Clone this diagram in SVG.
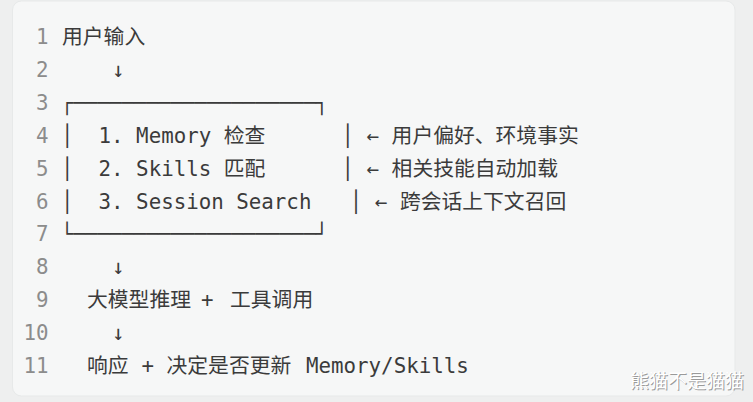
<svg xmlns="http://www.w3.org/2000/svg" width="753" height="402" viewBox="0 0 753 402">
<style>
.ln{font-family:"DejaVu Sans Mono","Liberation Mono","Noto Sans CJK SC",monospace;font-size:20.8px;fill:#8c8c8c;text-anchor:end}
.c{font-family:"DejaVu Sans Mono","Liberation Mono","Noto Sans CJK SC",monospace;font-size:20.8px;fill:#3b3b3b;white-space:pre}
.wm{font-family:"Noto Sans CJK SC","Noto Sans",sans-serif;font-size:19px}
</style>
<rect x="0" y="0" width="753" height="402" fill="#eeefef"/>
<rect x="12.5" y="1" width="722.5" height="395" rx="9" fill="#f6f7f7" stroke="#e7e9e9" stroke-width="1"/>
<g id="line-numbers">
<text class="ln" x="48.5" y="44">1</text>
<text class="ln" x="48.5" y="76.9">2</text>
<text class="ln" x="48.5" y="109.8">3</text>
<text class="ln" x="48.5" y="142.7">4</text>
<text class="ln" x="48.5" y="175.6">5</text>
<text class="ln" x="48.5" y="208.5">6</text>
<text class="ln" x="48.5" y="241.4">7</text>
<text class="ln" x="48.5" y="274.3">8</text>
<text class="ln" x="48.5" y="307.2">9</text>
<text class="ln" x="48.5" y="340.1">10</text>
<text class="ln" x="48.5" y="373">11</text>
</g>
<g id="code">
<text class="c" x="62" y="44">用户输入</text>
<text class="c" x="112" y="76.9">↓</text>
<text class="c" x="61" y="109.8" textLength="267" lengthAdjust="spacingAndGlyphs">┌────────────────────┐</text>
<text class="c" x="61" y="142.7" xml:space="preserve">│  1. Memory 检查</text>
<text class="c" x="341.5" y="142.7" xml:space="preserve">│ ← 用户偏好、环境事实</text>
<text class="c" x="61" y="175.6" xml:space="preserve">│  2. Skills 匹配</text>
<text class="c" x="341.5" y="175.6" xml:space="preserve">│ ← 相关技能自动加载</text>
<text class="c" x="61" y="208.5" xml:space="preserve">│  3. Session Search</text>
<text class="c" x="349.8" y="208.5" xml:space="preserve">│ ← 跨会话上下文召回</text>
<text class="c" x="61" y="241.4" textLength="267" lengthAdjust="spacingAndGlyphs">└────────────────────┘</text>
<text class="c" x="112" y="274.3">↓</text>
<text class="c" y="307.2"><tspan x="87">大模型推理</tspan><tspan x="201">+</tspan><tspan x="230">工具调用</tspan></text>
<text class="c" x="112" y="340.1">↓</text>
<text class="c" y="373"><tspan x="87">响应</tspan><tspan x="141.5">+</tspan><tspan x="166.5">决定是否更新</tspan><tspan x="306">Memory/Skills</tspan></text>
</g>
<g id="watermark">
<text class="wm" x="631" y="389" fill="#9a9a9a">熊猫不是猫猫</text>
<text class="wm" x="630" y="388" fill="#ffffff">熊猫不是猫猫</text>
</g>
</svg>
